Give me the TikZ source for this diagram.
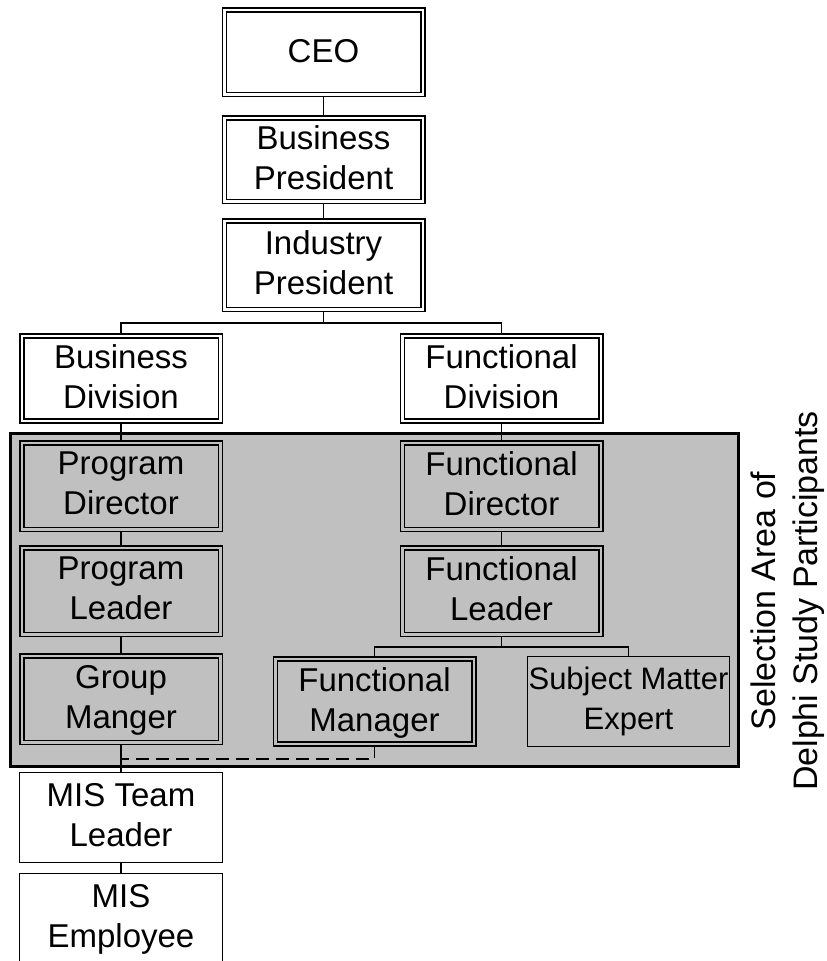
\documentclass[tikz,border=0pt]{standalone}
\usepackage{fontspec}
\setmainfont{Liberation Sans}
\definecolor{boxgray}{HTML}{C0C0C0}
\newcommand\bxfont{\fontsize{33}{40}\selectfont}
\newcommand\twol[2]{{\setbox0=\vtop{\halign{\hfil##\hfil\cr#1\cr#2\cr}}\ht0=24pt \dp0=44pt \box0}}
\newcommand\onel[1]{{\setbox0=\hbox{#1}\ht0=24pt \dp0=4pt \box0}}
\pgfdeclarelayer{backlayer}
\pgfdeclarelayer{linklayer}
\pgfsetlayers{backlayer,linklayer,main}
\tikzset{
  dbox/.style={draw, line width=1.5pt, double=white, double distance=2.5pt,
    fill=white, minimum width=198.5pt, minimum height=85pt,
    inner sep=0pt, font=\bxfont},
  gbox/.style={dbox, fill=boxgray, double=boxgray},
  sbox/.style={draw, line width=1.5pt, fill=boxgray, minimum width=202pt,
    minimum height=90pt, inner sep=0pt, font=\bxfont},
  wbox/.style={sbox, fill=white},
  link/.style={line width=1.5pt},
  dashlink/.style={line width=1.5pt, dash pattern=on 13pt off 7pt}
}
\begin{document}
\begin{tikzpicture}[x=1pt,y=-1pt]
\useasboundingbox (0,0) rectangle (827,961);
\begin{pgfonlayer}{backlayer}
\draw[line width=3pt, fill=boxgray] (10.5,433.5) rectangle (738.5,766.5);
\end{pgfonlayer}
\node[dbox, minimum height=84.5pt] (ceo) at (323.5,52) {\onel{CEO}};
\node[dbox, minimum height=83.5pt] (bp) at (323.5,159.5) {\twol{Business}{President}};
\node[dbox, minimum height=88.5pt] (ip) at (323.5,265) {\twol{Industry}{President}};
\node[dbox] (bd) at (121,378.5) {\twol{Business}{Division}};
\node[dbox] (fd) at (501.5,378.5) {\twol{Functional}{Division}};
\node[gbox, minimum height=86.5pt] (pd) at (121,486) {\twol{Program}{Director}};
\node[gbox, minimum height=86.5pt] (pl) at (121,591) {\twol{Program}{Leader}};
\node[gbox, minimum height=86.5pt] (gm) at (121,699) {\twol{Group}{Manger}};
\node[gbox, minimum height=86.5pt] (fdir) at (501.5,486) {\twol{Functional}{Director}};
\node[gbox, minimum height=86.5pt] (fl) at (501.5,591) {\twol{Functional}{Leader}};
\node[gbox] (fm) at (374.5,701.5) {\twol{Functional}{Manager}};
\node[sbox, font=\fontsize{31}{40}\selectfont] (sme) at (628.5,701.5) {\twol{Subject Matter}{Expert}};
\node[wbox, minimum width=203pt] (mtl) at (121,817.5) {\twol{MIS Team}{Leader}};
\node[wbox, minimum width=203pt] (memp) at (121,918.5) {\twol{MIS}{Employee}};
\node[rotate=90, align=center, inner sep=0pt, font=\fontsize{34}{42}\selectfont] (sel) at (788,601)
  {Selection Area of\\Delphi Study Participants};
\coordinate (j1) at (323.5,323);
\coordinate (j2) at (501.5,647);
\coordinate (d1) at (121,759);
\begin{pgfonlayer}{linklayer}
\draw[link] (ceo) -- (bp);
\draw[link] (bp) -- (ip);
\draw[link] (ip.south) -- (j1);
\draw[link] (bd.north) |- (j1) -| (fd.north);
\draw[link] (bd) -- (pd);
\draw[link] (pd) -- (pl);
\draw[link] (pl) -- (gm);
\draw[link] (gm) -- (mtl);
\draw[link] (mtl) -- (memp);
\draw[link] (fd) -- (fdir);
\draw[link] (fdir) -- (fl);
\draw[link] (fl.south) -- (j2);
\draw[link] (fm.north) |- (j2) -| (sme.north);
\draw[dashlink] (fm.south) |- (d1);
\end{pgfonlayer}
\end{tikzpicture}
\end{document}
